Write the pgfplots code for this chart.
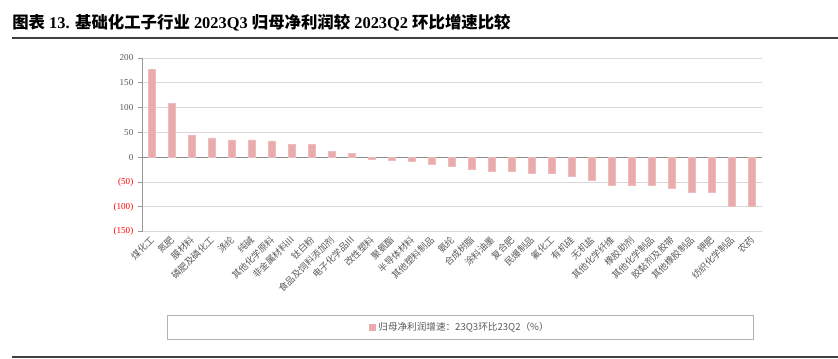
\documentclass[border=0pt]{standalone}
\usepackage{fontspec}
\setmainfont{Liberation Serif}
\newfontfamily\cjk{Noto Sans CJK SC}
\usepackage{pgfplots}
\pgfplotsset{compat=1.18}
\definecolor{barpink}{RGB}{233,171,171}
\definecolor{lblgray}{RGB}{89,89,89}
\definecolor{gridgray}{RGB}{217,217,217}
\begin{document}
\begin{tikzpicture}
\useasboundingbox (0,0) rectangle (628.5pt,269.25pt);
\node[anchor=base west,inner sep=0pt,font=\fontsize{12.3pt}{13pt}\selectfont\bfseries] at (9pt,247.5pt)
 {{\cjk 图表} 13. {\cjk 基础化工子行业} 2023Q3 {\cjk 归母净利润较} 2023Q2 {\cjk 环比增速比较}};
\draw[line width=1.1pt,color=black!75] (9pt,240.75pt) -- (628.5pt,240.75pt);
\draw[line width=1.1pt,color=black!75] (9pt,1.5pt) -- (628.5pt,1.5pt);
\draw[color=black!30,line width=0.6pt] (125.25pt,15pt) rectangle (564.75pt,33pt);
\begin{axis}[
  at={(106.5pt,95.5pt)}, anchor=south west,
  scale only axis, width=465pt, height=130.3pt,
  ybar, bar width=4.9pt,
  xmin=-0.5, xmax=30.5,
  ymin=-150, ymax=200,
  xtick=data,
  xticklabels={煤化工,氮肥,膜材料,磷肥及磷化工,涤纶,纯碱,其他化学原料,非金属材料III,钛白粉,食品及饲料添加剂,电子化学品III,改性塑料,聚氨酯,半导体材料,其他塑料制品,氨纶,合成树脂,涂料油墨,复合肥,民爆制品,氟化工,有机硅,无机盐,其他化学纤维,橡胶助剂,其他化学制品,胶黏剂及胶带,其他橡胶制品,钾肥,纺织化学制品,农药},
  xticklabel style={rotate=45, anchor=east, font=\cjk\fontsize{6.9pt}{7.5pt}\selectfont, text=lblgray, inner sep=1pt, yshift=-1.5pt},
  ytick={-150,-100,-50,0,50,100,150,200},
  yticklabels={\textcolor{red}{(150)},\textcolor{red}{(100)},\textcolor{red}{(50)},0,50,100,150,200},
  yticklabel style={font=\fontsize{6.8pt}{8pt}\selectfont, text=lblgray},
  ymajorgrids, grid style={gridgray, line width=0.6pt},
  extra y ticks={0}, extra y tick labels={},
  extra y tick style={grid style={black!45,line width=0.7pt}, major tick length=0pt},
  axis lines*=left,
  x axis line style={draw=none},
  y axis line style={black!40, line width=0.6pt},
  tick align=outside,
  major tick length=3pt,
  y tick style={black!40, line width=0.6pt},
  x tick style={draw=none},
  legend style={at={(0.513,-0.549)}, anchor=center, draw=none, fill=none,
    font=\cjk\fontsize{7.2pt}{8pt}\selectfont, text=lblgray},
  legend image code/.code={\fill[barpink] (0pt,-2.4pt) rectangle (4.8pt,2.4pt);},
]
\addplot[fill=barpink, draw=barpink!80!white] coordinates {
(0,177) (1,109) (2,45) (3,39) (4,35) (5,35) (6,33) (7,26) (8,26) (9,12) (10,8)
(11,-5) (12,-6) (13,-9) (14,-15) (15,-18) (16,-25) (17,-29) (18,-29) (19,-32) (20,-33)
(21,-39) (22,-47) (23,-57) (24,-57) (25,-57) (26,-63) (27,-70) (28,-71) (29,-98) (30,-98)
};
\addlegendentry{归母净利润增速：23Q3环比23Q2（\%）}
\end{axis}
\end{tikzpicture}
\end{document}
